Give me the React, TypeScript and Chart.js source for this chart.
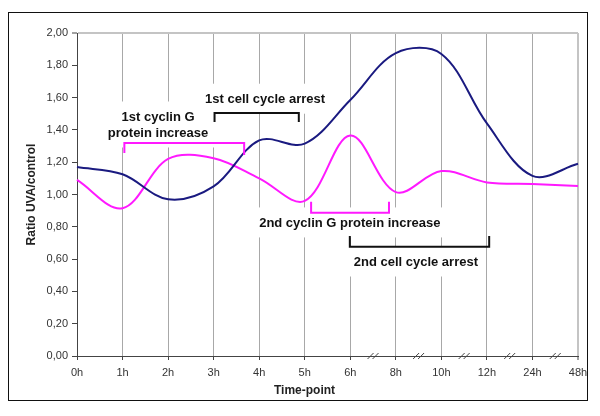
import React, { useEffect, useRef } from 'react';
import { Chart, registerables } from 'chart.js';

Chart.register(...registerables);

// ---- data ----
const timePoints = ['0h', '1h', '2h', '3h', '4h', '5h', '6h', '8h', '10h', '12h', '24h', '48h'];
const cellCycleRatio = [1.17, 1.125, 0.97, 1.05, 1.335, 1.315, 1.585, 1.875, 1.87, 1.44, 1.115, 1.19];
const cyclinGRatio = [1.09, 0.915, 1.22, 1.225, 1.1, 0.96, 1.365, 1.015, 1.145, 1.075, 1.065, 1.053];
const yMin = 0;
const yMax = 2;
const yStep = 0.2;
// axis breaks sit between these consecutive category indices
const breakAfter = [6, 7, 8, 9, 10];

const NAVY = '#1a1a80';
const MAGENTA = '#ff19ff';
const FONT = '"Liberation Sans", Arial, sans-serif';

// annotations in data coordinates (category index, ratio value)
const annotations = [
  {
    lines: ['1st cyclin G', 'protein increase'],
    cx: 1.78,
    ys: [1.48, 1.381],
    color: MAGENTA,
    bracket: { x1: 1.04, x2: 3.67, y: 1.319, tip1: 1.257, tip2: 1.245 },
  },
  {
    lines: ['1st cell cycle arrest'],
    cx: 4.13,
    ys: [1.59],
    color: '#111111',
    bracket: { x1: 3.02, x2: 4.87, y: 1.505, tip1: 1.449, tip2: 1.449 },
  },
  {
    lines: ['2nd cyclin G protein increase'],
    cx: 5.99,
    ys: [0.824],
    color: MAGENTA,
    bracket: { x1: 5.14, x2: 6.85, y: 0.887, tip1: 0.955, tip2: 0.955 },
  },
  {
    lines: ['2nd cell cycle arrest'],
    cx: 7.44,
    ys: [0.582],
    color: '#111111',
    bracket: { x1: 5.99, x2: 9.05, y: 0.677, tip1: 0.743, tip2: 0.743 },
  },
];

const annotationPlugin = {
  id: 'figureAnnotations',
  beforeDatasetsDraw(chart: any) {
    const { ctx } = chart;
    const xs = chart.scales.x;
    const ys = chart.scales.y;
    ctx.save();
    ctx.font = `bold 13px ${FONT}`;
    // white text boxes
    annotations.forEach((a) => {
      const cx = xs.getPixelForValue(a.cx);
      const w = Math.max(...a.lines.map((l) => ctx.measureText(l).width));
      const top = ys.getPixelForValue(a.ys[0]) - 6.5 - 9;
      const bottom = ys.getPixelForValue(a.ys[a.ys.length - 1]) + 6.5 + 8;
      ctx.fillStyle = '#ffffff';
      ctx.fillRect(cx - w / 2 - 7, top, w + 14, bottom - top);
    });
    ctx.fillStyle = '#111111';
    ctx.textAlign = 'center';
    ctx.textBaseline = 'middle';
    annotations.forEach((a) => {
      const cx = xs.getPixelForValue(a.cx);
      a.lines.forEach((l, i) => ctx.fillText(l, cx, ys.getPixelForValue(a.ys[i])));
    });
    ctx.restore();
  },
  afterDatasetsDraw(chart: any) {
    const { ctx } = chart;
    const xs = chart.scales.x;
    const ys = chart.scales.y;
    ctx.save();
    ctx.lineWidth = 2;
    ctx.lineJoin = 'miter';
    annotations.forEach((a) => {
      const b = a.bracket;
      const x1 = xs.getPixelForValue(b.x1);
      const x2 = xs.getPixelForValue(b.x2);
      const yb = ys.getPixelForValue(b.y);
      ctx.strokeStyle = a.color;
      ctx.beginPath();
      ctx.moveTo(x1, ys.getPixelForValue(b.tip1));
      ctx.lineTo(x1, yb);
      ctx.lineTo(x2, yb);
      ctx.lineTo(x2, ys.getPixelForValue(b.tip2));
      ctx.stroke();
    });
    ctx.restore();
  },
  afterDraw(chart: any) {
    const { ctx, chartArea } = chart;
    const xs = chart.scales.x;
    const axisY = chartArea.bottom;
    ctx.save();
    // axis break marks
    ctx.strokeStyle = '#444444';
    ctx.lineWidth = 1;
    breakAfter.forEach((i) => {
      const mx = (xs.getPixelForTick(i) + xs.getPixelForTick(i + 1)) / 2;
      [-2.5, 2.5].forEach((dx) => {
        ctx.beginPath();
        ctx.moveTo(mx + dx - 3, axisY + 3);
        ctx.lineTo(mx + dx + 3, axisY - 3);
        ctx.stroke();
      });
    });
    // axis titles
    ctx.fillStyle = '#222222';
    ctx.font = `bold 12px ${FONT}`;
    ctx.textAlign = 'center';
    ctx.textBaseline = 'middle';
    ctx.fillText('Time-point', chartArea.left + 227.5, axisY + 35);
    ctx.translate(23, (chartArea.top + chartArea.bottom) / 2);
    ctx.rotate(-Math.PI / 2);
    ctx.fillText('Ratio UVA/control', 0, 0);
    ctx.restore();
  },
};

export default function App() {
  const canvasRef = useRef<HTMLCanvasElement | null>(null);

  useEffect(() => {
    if (!canvasRef.current) return;
    const chart = new Chart(canvasRef.current, {
      type: 'line',
      data: {
        labels: timePoints,
        datasets: [
          {
            label: 'Cell cycle',
            data: cellCycleRatio,
            borderColor: NAVY,
            borderWidth: 2,
            pointRadius: 0,
            tension: 0.35,
            fill: false,
          },
          {
            label: 'Cyclin G protein',
            data: cyclinGRatio,
            borderColor: MAGENTA,
            borderWidth: 2,
            pointRadius: 0,
            tension: 0.35,
            fill: false,
          },
        ],
      },
      options: {
        animation: false,
        responsive: false,
        maintainAspectRatio: false,
        layout: { padding: { top: 20, right: 9, left: 0, bottom: 0 } },
        plugins: { legend: { display: false }, tooltip: { enabled: false } },
        scales: {
          x: {
            type: 'category',
            offset: false,
            afterFit: (s: any) => {
              s.height = 44;
              s.paddingLeft = 0;
              s.paddingRight = 0;
            },
            grid: {
              color: (c: any) => (c.index === timePoints.length - 1 ? '#c4c4c4' : '#a8a8a8'),
              lineWidth: (c: any) => (c.index === timePoints.length - 1 ? 2 : 1),
              tickColor: '#444444',
              tickWidth: 1,
              tickLength: 4,
            },
            border: { display: true, color: '#444444', width: 1 },
            ticks: {
              color: '#333333',
              font: { family: FONT, size: 11 },
              padding: 6,
              maxRotation: 0,
              autoSkip: false,
            },
          },
          y: {
            min: yMin,
            max: yMax,
            afterFit: (s: any) => {
              s.width = 68;
              s.paddingTop = 0;
              s.paddingBottom = 0;
            },
            grid: {
              color: (c: any) => (c.tick && Math.abs(c.tick.value - yMax) < 1e-9 ? '#c4c4c4' : 'rgba(0,0,0,0)'),
              lineWidth: (c: any) => (c.tick && Math.abs(c.tick.value - yMax) < 1e-9 ? 2 : 1),
              tickColor: '#444444',
              tickWidth: 1,
              tickLength: 5,
            },
            border: { display: true, color: '#444444', width: 1 },
            ticks: {
              stepSize: yStep,
              color: '#333333',
              font: { family: FONT, size: 11 },
              padding: 4,
              callback: (v: any) => Number(v).toFixed(2).replace('.', ','),
            },
          },
        },
      },
      plugins: [annotationPlugin],
    });
    return () => chart.destroy();
  }, []);

  return (
    <div style={{ paddingTop: 4, paddingBottom: 8 }}>
      <div
        style={{
          width: 578,
          height: 387,
          border: '1px solid #111',
          background: '#fff',
        }}
      >
        <canvas ref={canvasRef} width={578} height={387} style={{ display: 'block', width: 578, height: 387 }} />
      </div>
    </div>
  );
}
